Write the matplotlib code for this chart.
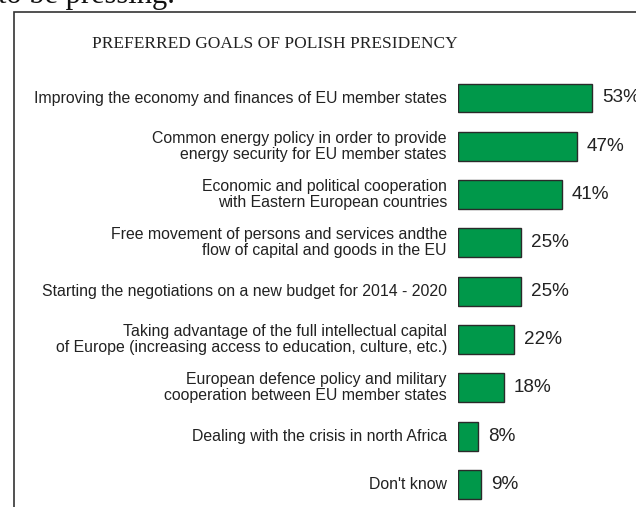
import matplotlib.pyplot as plt
from matplotlib.patches import Rectangle

# --- DONNEES ---
goals = [
    "Improving the economy and finances of EU member states",
    "Common energy policy in order to provide\nenergy security for EU member states",
    "Economic and political cooperation\nwith Eastern European countries",
    "Free movement of persons and services andthe\nflow of capital and goods in the EU",
    "Starting the negotiations on a new budget for 2014 - 2020",
    "Taking advantage of the full intellectual capital\nof Europe (increasing access to education, culture, etc.)",
    "European defence policy and military\ncooperation between EU member states",
    "Dealing with the crisis in north Africa",
    "Don't know",
]
shares = [53, 47, 41, 25, 25, 22, 18, 8, 9]
title = "PREFERRED GOALS OF POLISH PRESIDENCY"

W, H = 636, 507
fig = plt.figure(figsize=(W / 100, H / 100), dpi=100)

# cadre autour du graphique (ouvert a droite et en bas)
fig.patches.append(Rectangle((14 / W, -0.1), 2, 1 - 12 / H + 0.1,
                             transform=fig.transFigure, fill=False,
                             edgecolor='#333333', linewidth=1.2))

# fin de phrase du texte au-dessus
fig.text(-2 / W, 1 - 3 / H, "to be pressing.", family='Liberation Serif',
         fontsize=22, ha='left', va='baseline', color='#111111')

fig.text(275 / W, 1 - 44 / H, title, family='Liberation Serif',
         fontsize=12.5, ha='center', va='center', color='#222222')

# --- BARRES ---
px_per_pct = 2.53
row = 48.3
y0 = 98
ax_left = 458
ax_top = y0 - row
ax = fig.add_axes([ax_left / W, 0, 1 - ax_left / W, 1 - ax_top / H])
ax.set_xlim(0, (W - ax_left) / px_per_pct)
ax.set_ylim((H - y0) / row, -1)
ax.axis('off')

pos = list(range(len(goals)))
ax.barh(pos, shares, height=0.6, color='#00984a', edgecolor='#2a2a2a',
        linewidth=1.0)

for i, (g, v) in enumerate(zip(goals, shares)):
    ax.annotate(g, (0, i), xytext=(-11, 0), textcoords='offset pixels',
                ha='right', va='center', family='Liberation Sans',
                fontsize=11.4, color='#222222', linespacing=1.1,
                annotation_clip=False)
    ax.annotate(f"{v}%", (v, i), xytext=(10, 0), textcoords='offset pixels',
                ha='left', va='center', family='Liberation Sans',
                fontsize=13.6, color='#222222', annotation_clip=False)

plt.savefig("out.png", dpi=100)
